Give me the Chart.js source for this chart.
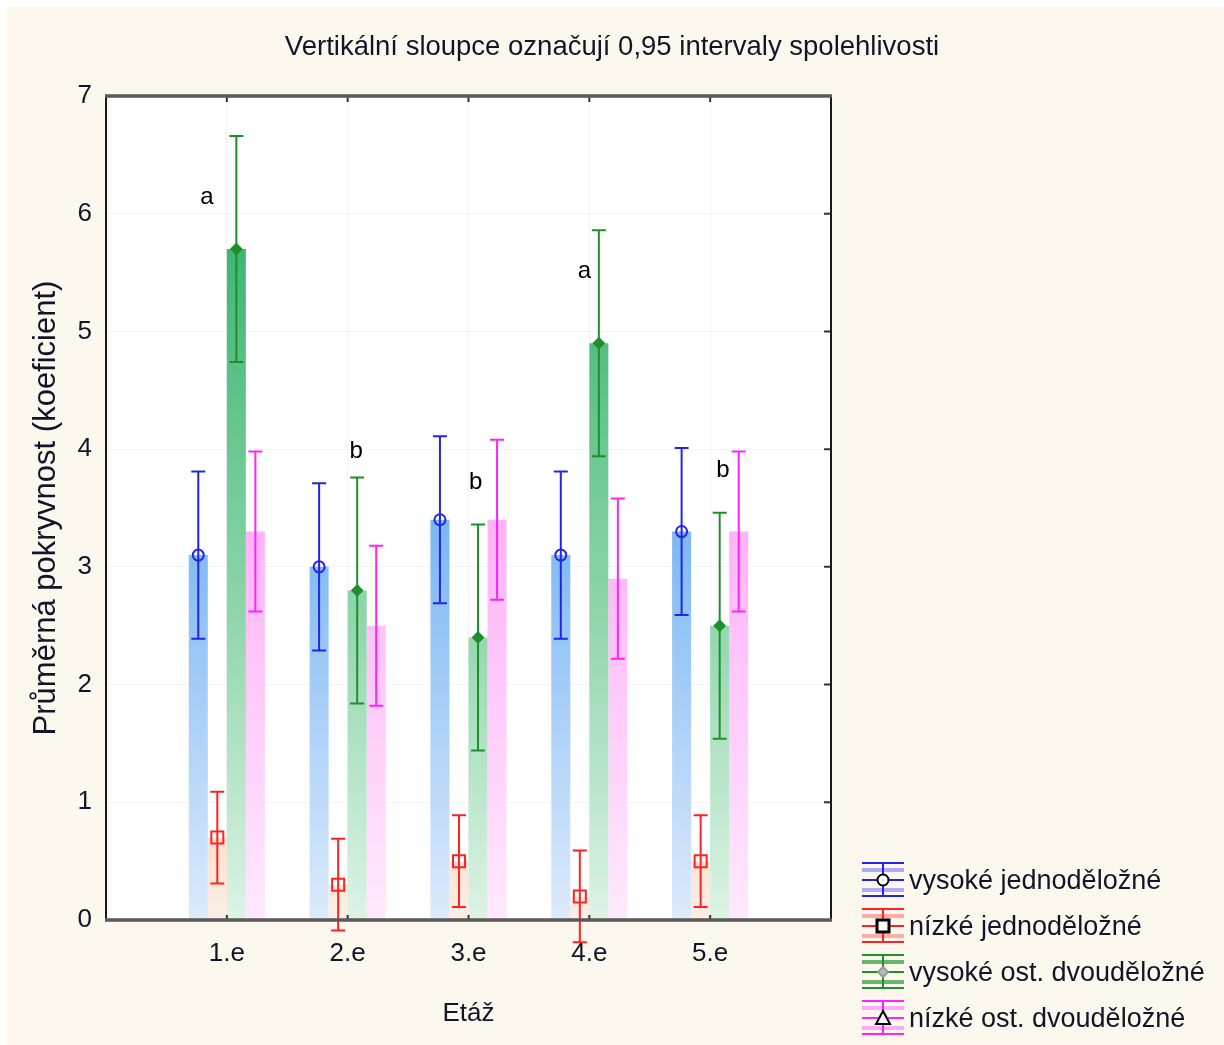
<!DOCTYPE html>
<html>
<head>
<meta charset="utf-8">
<script src="https://cdn.jsdelivr.net/npm/chart.js"></script>
<style>
  html, body { margin: 0; background: #fff; }
  #wrap { width: 1224px; height: 1045px; }
</style>
</head>
<body>
<div id="wrap"><canvas id="chart"></canvas></div>
<script>
// Data
const etaze = ['1.e', '2.e', '3.e', '4.e', '5.e'];
const seriesNames = ['vysoké jednoděložné', 'nízké jednoděložné', 'vysoké ost. dvouděložné', 'nízké ost. dvouděložné'];

const vysJednoMean = [3.1, 3.0, 3.4, 3.1, 3.3];
const vysJednoLow  = [2.39, 2.29, 2.69, 2.39, 2.59];
const vysJednoHigh = [3.81, 3.71, 4.11, 3.81, 4.01];

const nizJednoMean = [0.7, 0.3, 0.5, 0.2, 0.5];
const nizJednoLow  = [0.31, -0.09, 0.11, -0.19, 0.11];
const nizJednoHigh = [1.09, 0.69, 0.89, 0.59, 0.89];

const vysDvouMean = [5.7, 2.8, 2.4, 4.9, 2.5];
const vysDvouLow  = [4.74, 1.84, 1.44, 3.94, 1.54];
const vysDvouHigh = [6.66, 3.76, 3.36, 5.86, 3.46];

const nizDvouMean = [3.3, 2.5, 3.4, 2.9, 3.3];
const nizDvouLow  = [2.62, 1.82, 2.72, 2.22, 2.62];
const nizDvouHigh = [3.98, 3.18, 4.08, 3.58, 3.98];

// significance letters (placed near the green series)
const letters     = ['a', 'b', 'b', 'a', 'b'];
const letterY     = [6.14, 3.98, 3.72, 5.51, 3.82];
const letterShift = [-0.165, 0.07, 0.06, -0.04, 0.105];

const yTicks = [0, 1, 2, 3, 4, 5, 6, 7];

const FONT = '"Liberation Sans", Arial, sans-serif';
const TEXT = '#141428';

// pad the categories so the axis runs from 0 to 6 like in the figure
const pad = arr => [null, ...arr, null];

// gradient: stops are [value, color]
function valueGradient(chart, stops) {
    const area = chart.chartArea;
    const y = chart.scales.y;
    const g = chart.ctx.createLinearGradient(0, area.top, 0, area.bottom);
    stops.forEach(([v, col]) => {
        const p = (y.getPixelForValue(v) - area.top) / (area.bottom - area.top);
        g.addColorStop(Math.min(1, Math.max(0, p)), col);
    });
    return g;
}

function fill(stops) {
    return function(c) {
        if (!c.chart.chartArea) return stops[0][1];
        return valueGradient(c.chart, stops);
    };
}

const datasets = [
    {
        label: seriesNames[0],
        data: pad(vysJednoMean),
        ciLow: pad(vysJednoLow), ciHigh: pad(vysJednoHigh),
        lineColor: '#2424e6', lightColor: 'rgba(110,110,255,0.55)', marker: 'circle',
        backgroundColor: fill([[0, '#ddebfc'], [3.3, '#7cb8f4'], [7, '#3d8fea']])
    },
    {
        label: seriesNames[1],
        data: pad(nizJednoMean),
        ciLow: pad(nizJednoLow), ciHigh: pad(nizJednoHigh),
        lineColor: '#ff2222', lightColor: 'rgba(255,110,110,0.55)', marker: 'square',
        backgroundColor: fill([[0, '#fdeee4'], [1, '#fbdcc8'], [7, '#f7b894']])
    },
    {
        label: seriesNames[2],
        data: pad(vysDvouMean),
        ciLow: pad(vysDvouLow), ciHigh: pad(vysDvouHigh),
        lineColor: '#1f8f2c', lightColor: 'rgba(60,160,70,0.75)', marker: 'diamond',
        backgroundColor: fill([[0, '#ddf3e6'], [2.5, '#92d7ad'], [5.7, '#3fb673'], [7, '#27a95f']])
    },
    {
        label: seriesNames[3],
        data: pad(nizDvouMean),
        ciLow: pad(nizDvouLow), ciHigh: pad(nizDvouHigh),
        lineColor: '#ff22ff', lightColor: 'rgba(255,120,255,0.6)', marker: 'triangle',
        backgroundColor: fill([[0, '#ffe9fd'], [3.4, '#ffb2f8'], [7, '#ff80f2']])
    }
];

function drawMarker(ctx, kind, x, y, color, legend) {
    ctx.save();
    ctx.lineWidth = 2;
    ctx.strokeStyle = legend ? '#000' : color;
    ctx.fillStyle = legend ? '#fff' : 'rgba(0,0,0,0)';
    ctx.beginPath();
    if (kind === 'circle') {
        ctx.arc(x, y, 5.5, 0, Math.PI * 2);
        ctx.fill(); ctx.stroke();
    } else if (kind === 'square') {
        ctx.lineWidth = legend ? 3 : 2;
        ctx.rect(x - 6, y - 6, 12, 12);
        ctx.fill(); ctx.stroke();
    } else if (kind === 'diamond') {
        ctx.fillStyle = legend ? '#bbb' : color;
        ctx.strokeStyle = legend ? '#999' : color;
        ctx.moveTo(x, y - 5); ctx.lineTo(x + 5, y); ctx.lineTo(x, y + 5); ctx.lineTo(x - 5, y);
        ctx.closePath();
        ctx.fill(); ctx.stroke();
    } else if (kind === 'triangle' && legend) {
        ctx.moveTo(x, y - 7); ctx.lineTo(x + 7, y + 6); ctx.lineTo(x - 7, y + 6);
        ctx.closePath();
        ctx.fill(); ctx.stroke();
    }
    ctx.restore();
}

const backgroundPlugin = {
    id: 'background',
    beforeDraw(chart) {
        const {ctx, width, height, chartArea: a} = chart;
        ctx.save();
        ctx.fillStyle = '#ffffff';
        ctx.fillRect(0, 0, width, height);
        ctx.fillStyle = '#fdf8ee';
        ctx.fillRect(7, 7, width - 7, height - 7);
        ctx.fillStyle = '#ffffff';
        ctx.fillRect(a.left, a.top, a.right - a.left, a.bottom - a.top);
        ctx.restore();
    }
};

const errorBarsPlugin = {
    id: 'errorBars',
    afterDatasetsDraw(chart) {
        const {ctx} = chart;
        const y = chart.scales.y;
        chart.data.datasets.forEach((ds, di) => {
            const meta = chart.getDatasetMeta(di);
            meta.data.forEach((bar, i) => {
                const lo = ds.ciLow[i], hi = ds.ciHigh[i];
                if (lo == null || ds.data[i] == null) return;
                const x = bar.x;
                const yl = y.getPixelForValue(lo), yh = y.getPixelForValue(hi);
                ctx.save();
                ctx.strokeStyle = ds.lineColor;
                ctx.lineWidth = 2;
                ctx.beginPath();
                ctx.moveTo(x, yl); ctx.lineTo(x, yh);
                ctx.moveTo(x - 7, yl); ctx.lineTo(x + 7, yl);
                ctx.moveTo(x - 7, yh); ctx.lineTo(x + 7, yh);
                ctx.stroke();
                ctx.restore();
                drawMarker(ctx, ds.marker, x, y.getPixelForValue(ds.data[i]), ds.lineColor, false);
            });
        });
    }
};

const framePlugin = {
    id: 'frame',
    afterDraw(chart) {
        const {ctx, chartArea: a, scales: {x, y}} = chart;
        ctx.save();
        // inward ticks
        ctx.strokeStyle = '#333';
        ctx.lineWidth = 2;
        ctx.beginPath();
        for (let i = 0; i <= etaze.length + 1; i++) {
            const px = x.getPixelForValue(i);
            ctx.moveTo(px, a.top); ctx.lineTo(px, a.top + 6);
            if (i > 0 && i <= etaze.length) { ctx.moveTo(px, a.bottom); ctx.lineTo(px, a.bottom - 5); }
        }
        yTicks.forEach(v => {
            const py = y.getPixelForValue(v);
            ctx.moveTo(a.right, py); ctx.lineTo(a.right - 7, py);
        });
        ctx.stroke();
        // box
        ctx.strokeStyle = '#1a1a1a';
        ctx.lineWidth = 2;
        ctx.beginPath();
        ctx.moveTo(a.left, a.top); ctx.lineTo(a.left, a.bottom);
        ctx.moveTo(a.right, a.top); ctx.lineTo(a.right, a.bottom);
        ctx.stroke();
        ctx.strokeStyle = '#5a5a5a';
        ctx.lineWidth = 3.5;
        ctx.beginPath();
        ctx.moveTo(a.left - 1, a.top); ctx.lineTo(a.right + 1, a.top);
        ctx.moveTo(a.left - 1, a.bottom); ctx.lineTo(a.right + 1, a.bottom);
        ctx.stroke();

        // title
        ctx.fillStyle = TEXT;
        ctx.font = '27.5px ' + FONT;
        ctx.textAlign = 'center';
        ctx.textBaseline = 'middle';
        ctx.fillText('Vertikální sloupce označují 0,95 intervaly spolehlivosti', 612, 47);

        // letters
        ctx.fillStyle = '#000';
        ctx.font = '24px ' + FONT;
        letters.forEach((t, i) => {
            ctx.fillText(t, x.getPixelForValue(i + 1 + letterShift[i]), y.getPixelForValue(letterY[i]));
        });

        // legend
        chart.data.datasets.forEach((ds, i) => {
            const cy = 880 + i * 46;
            const cx = 883;
            ctx.strokeStyle = ds.lightColor;
            ctx.lineWidth = 4;
            ctx.beginPath();
            ctx.moveTo(cx - 21, cy - 10); ctx.lineTo(cx + 21, cy - 10);
            ctx.moveTo(cx - 21, cy + 10); ctx.lineTo(cx + 21, cy + 10);
            ctx.stroke();
            ctx.strokeStyle = ds.lineColor;
            ctx.lineWidth = 2;
            ctx.beginPath();
            ctx.moveTo(cx - 21, cy - 17); ctx.lineTo(cx + 21, cy - 17);
            ctx.moveTo(cx - 21, cy + 16); ctx.lineTo(cx + 21, cy + 16);
            ctx.moveTo(cx, cy - 17); ctx.lineTo(cx, cy + 16);
            ctx.moveTo(cx - 21, cy); ctx.lineTo(cx + 21, cy);
            ctx.stroke();
            drawMarker(ctx, ds.marker, cx, cy, ds.lineColor, true);
            ctx.fillStyle = TEXT;
            ctx.font = '27px ' + FONT;
            ctx.textAlign = 'left';
            ctx.fillText(ds.label, 909, cy + 2);
        });
        ctx.restore();
    }
};

new Chart(document.getElementById('chart'), {
    type: 'bar',
    data: {
        labels: ['', ...etaze, ''],
        datasets: datasets
    },
    options: {
        responsive: true,
        maintainAspectRatio: false,
        animation: false,
        events: [],
        categoryPercentage: 0.63,
        barPercentage: 1.0,
        layout: { padding: { top: 96, right: 393, left: 0, bottom: 0 } },
        datasets: { bar: { borderWidth: 0 } },
        plugins: {
            legend: { display: false },
            title: { display: false },
            tooltip: { enabled: false }
        },
        scales: {
            x: {
                offset: false,
                grid: { offset: false, color: 'rgba(0,0,0,0.045)', drawTicks: false },
                border: { display: false },
                ticks: { autoSkip: false, maxRotation: 0, padding: 18, color: TEXT, font: { family: FONT, size: 26 } },
                title: { display: true, text: 'Etáž', color: TEXT, font: { family: FONT, size: 26 }, padding: { top: 0, bottom: 16 } },
                afterFit(scale) { scale.height = 125; }
            },
            y: {
                min: 0,
                max: 7,
                afterBuildTicks(scale) { scale.ticks = yTicks.map(v => ({ value: v })); },
                grid: { color: 'rgba(0,0,0,0.045)', drawTicks: false },
                border: { display: false },
                ticks: { padding: 14, color: TEXT, font: { family: FONT, size: 26 } },
                title: { display: true, text: 'Průměrná pokryvnost (koeficient)', color: TEXT, font: { family: FONT, size: 31 }, padding: { top: 28, bottom: 0 } },
                afterFit(scale) { scale.width = 106; }
            }
        }
    },
    plugins: [backgroundPlugin, errorBarsPlugin, framePlugin]
});
</script>
</body>
</html>
